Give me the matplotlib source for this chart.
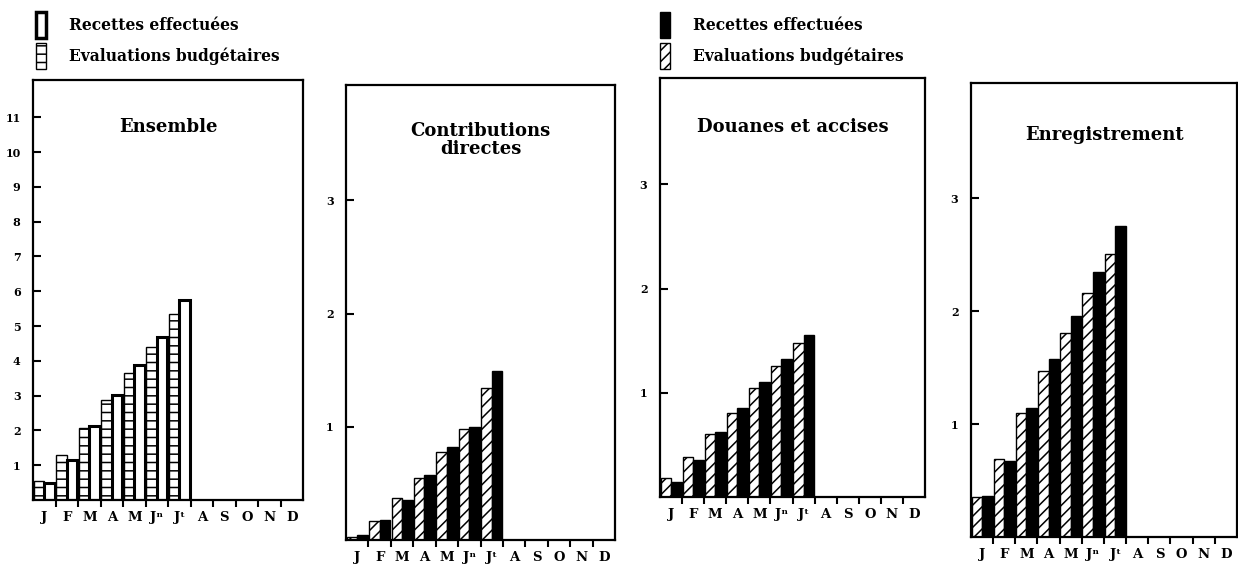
import numpy as np
import matplotlib.pyplot as plt
from matplotlib.patches import Patch

plt.rcParams["font.family"] = ["DejaVu Serif", "DejaVu Sans"]
plt.rcParams["font.weight"] = "bold"
plt.rcParams["hatch.linewidth"] = 1.1

# ------------------------------------------------------------------ #
months = ["J", "F", "M", "A", "M", "Jⁿ", "Jᵗ", "A", "S", "O", "N", "D"]

ens_budget = [0.55, 1.29, 2.07, 2.87, 3.65, 4.40, 5.35]
ens_actual = [0.50, 1.14, 2.12, 3.01, 3.87, 4.67, 5.74]

cd_budget = [0.03, 0.165, 0.375, 0.55, 0.78, 0.98, 1.34]
cd_actual = [0.04, 0.18, 0.35, 0.57, 0.82, 1.00, 1.49]

dou_budget = [0.18, 0.38, 0.60, 0.81, 1.045, 1.26, 1.48]
dou_actual = [0.145, 0.35, 0.62, 0.855, 1.10, 1.32, 1.55]

enr_budget = [0.35, 0.69, 1.10, 1.47, 1.81, 2.16, 2.51]
enr_actual = [0.36, 0.67, 1.14, 1.58, 1.96, 2.35, 2.75]

label_actual = "Recettes effectuées"
label_budget = "Evaluations budgétaires"
# ------------------------------------------------------------------ #


def setup_axis(ax, ymax, yticks, title, ty):
    ax.set_xlim(0, 12)
    ax.set_ylim(0, ymax)
    for s in ["top", "bottom", "left", "right"]:
        ax.spines[s].set_linewidth(1.6)
    ax.set_xticks(np.arange(1, 12))
    ax.set_xticklabels([])
    ax.set_xticks(np.arange(12) + 0.5, minor=True)
    ax.set_xticklabels(months, minor=True, fontsize=9.5, fontweight="bold")
    ax.tick_params(axis="x", which="major", direction="out", length=5, width=1.5)
    ax.tick_params(axis="x", which="minor", length=0, pad=8)
    ax.set_yticks(yticks)
    ax.set_yticklabels([str(t) for t in yticks], fontsize=8, fontweight="bold")
    ax.tick_params(axis="y", direction="in", length=6, width=1.5, pad=9)
    ax.text(0.5, ty, title, transform=ax.transAxes, ha="center", va="center",
            fontsize=13, fontweight="bold", linespacing=1.0)


fig = plt.figure(figsize=(12.38, 5.67), dpi=100)

# panel 1 - Ensemble
ax1 = fig.add_axes([0.0267, 0.1182, 0.2181, 0.7407])
x = np.arange(len(ens_budget))
ax1.bar(x + 0.03, ens_budget, width=0.47, align="edge", color="white",
        edgecolor="black", hatch="--", lw=1.0)
ax1.bar(x + 0.5, ens_actual, width=0.47, align="edge", color="white",
        edgecolor="black", lw=2.2)
setup_axis(ax1, 12.07, list(range(1, 12)), "Ensemble", 0.888)

# panels 2-4
panels = [
    ([0.2795, 0.0476, 0.2173, 0.8025], cd_budget, cd_actual, "Contributions\ndirectes", 0.879),
    ([0.5331, 0.1235, 0.2141, 0.7390], dou_budget, dou_actual, "Douanes et accises", 0.883),
    ([0.7843, 0.0529, 0.2149, 0.8007], enr_budget, enr_actual, "Enregistrement", 0.885),
]
for rect, bud, act, title, ty in panels:
    ax = fig.add_axes(rect)
    x = np.arange(len(bud))
    ax.bar(x + 0.03, bud, width=0.47, align="edge", color="white",
           edgecolor="black", hatch="///", lw=1.0)
    ax.bar(x + 0.5, act, width=0.48, align="edge", color="black",
           edgecolor="black", lw=1.0)
    setup_axis(ax, 4.02, [1, 2, 3], title, ty)

# legends
h1 = [Patch(facecolor="white", edgecolor="black", lw=2.5),
      Patch(facecolor="white", edgecolor="black", hatch="--", lw=1.0)]
fig.legend(h1, [label_actual, label_budget], loc="upper left",
           bbox_to_anchor=(0.020, 0.998), frameon=False, fontsize=11.2,
           handlelength=0.65, handleheight=2.2, handletextpad=1.5,
           labelspacing=0.3, borderaxespad=0.3)

h2 = [Patch(facecolor="black", edgecolor="black", lw=1.0),
      Patch(facecolor="white", edgecolor="black", hatch="///", lw=1.0)]
fig.legend(h2, [label_actual, label_budget], loc="upper left",
           bbox_to_anchor=(0.524, 0.998), frameon=False, fontsize=11.2,
           handlelength=0.65, handleheight=2.2, handletextpad=1.5,
           labelspacing=0.3, borderaxespad=0.3)

fig.savefig("out.png", dpi=100)
